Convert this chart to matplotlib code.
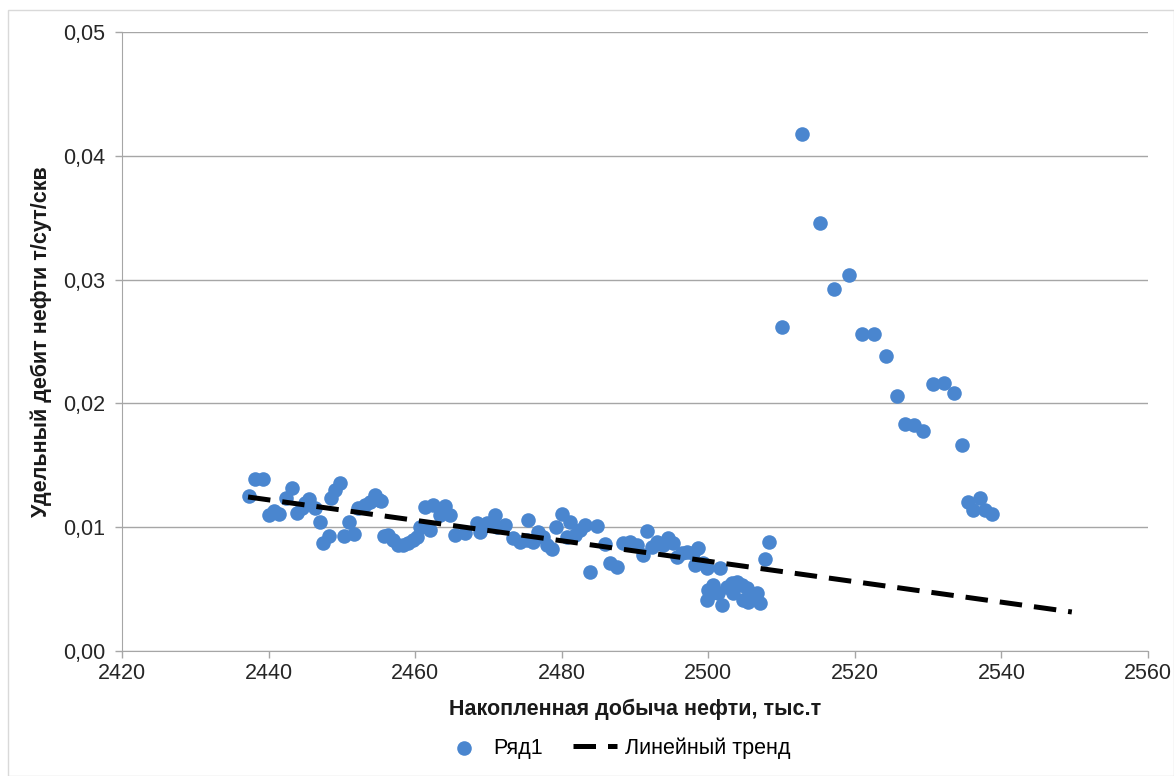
import matplotlib
matplotlib.use("Agg")
import matplotlib.pyplot as plt
from matplotlib.patches import Rectangle
from matplotlib.ticker import FuncFormatter, MultipleLocator

plt.rcParams['font.family'] = ['Liberation Sans', 'DejaVu Sans']

# накопленная добыча, тыс.т
cum_oil = [
    2437.37, 2438.15, 2439.20, 2440.10, 2440.78, 2441.46, 2442.38, 2443.24, 2443.92, 2444.52,
    2444.97, 2445.56, 2446.33, 2447.02, 2447.47, 2448.29, 2448.52, 2449.06, 2449.75, 2450.33,
    2451.01, 2451.70, 2452.24, 2453.16, 2453.84, 2454.52, 2455.11, 2455.40, 2455.75, 2456.30,
    2457.02, 2457.70, 2458.38, 2459.06, 2459.75, 2460.21, 2460.66, 2461.34, 2462.47, 2462.02,
    2463.39, 2464.07, 2464.75, 2465.44, 2466.80, 2468.40, 2468.85, 2469.76, 2470.89, 2471.13,
    2472.26, 2473.39, 2474.31, 2475.22, 2475.44, 2476.12, 2476.80, 2477.48, 2477.94, 2478.63,
    2479.22, 2479.99, 2481.13, 2480.68, 2481.81, 2482.49, 2483.17, 2484.85, 2483.85, 2485.89,
    2486.58, 2487.50, 2488.40, 2489.31, 2490.23, 2491.05, 2491.59, 2492.27, 2492.95, 2493.85,
    2494.53, 2495.13, 2495.68, 2496.36, 2497.04, 2497.94, 2498.63, 2498.18, 2499.31, 2499.78,
    2501.59, 2508.32, 2507.73,
    2499.78, 2500.00, 2500.68, 2501.36, 2501.82, 2502.51, 2503.19, 2503.87, 2504.55, 2504.77,
    2505.24, 2505.69, 2506.14, 2506.60, 2507.05, 2505.44, 2500.49, 2503.43,
    2510.05, 2512.82, 2515.24, 2517.19, 2519.19, 2520.93, 2522.65, 2524.24, 2525.70, 2526.83,
    2528.06, 2529.25, 2530.70, 2532.20, 2533.56, 2534.65, 2535.47, 2537.07, 2536.16, 2537.75,
    2538.67,
]

# удельный дебит, т/сут/скв
spec_rate = [
    0.01254, 0.01389, 0.01389, 0.01099, 0.01131, 0.01104, 0.01233, 0.01319, 0.01112, 0.01153,
    0.01193, 0.01225, 0.01155, 0.01044, 0.00870, 0.00931, 0.01238, 0.01300, 0.01355, 0.00931,
    0.01044, 0.00943, 0.01153, 0.01179, 0.01206, 0.01260, 0.01220, 0.01210, 0.00931, 0.00940,
    0.00897, 0.00856, 0.00856, 0.00870, 0.00897, 0.00923, 0.01004, 0.01166, 0.01179, 0.00977,
    0.01099, 0.01171, 0.01099, 0.00937, 0.00951, 0.01032, 0.00964, 0.01032, 0.01099, 0.01004,
    0.01018, 0.00910, 0.00883, 0.00897, 0.01058, 0.00883, 0.00964, 0.00923, 0.00856, 0.00824,
    0.01004, 0.01104, 0.01040, 0.00923, 0.00937, 0.00977, 0.01018, 0.01012, 0.00641, 0.00862,
    0.00708, 0.00676, 0.00870, 0.00883, 0.00856, 0.00775, 0.00969, 0.00842, 0.00883, 0.00856,
    0.00910, 0.00875, 0.00762, 0.00789, 0.00802, 0.00789, 0.00830, 0.00695, 0.00708, 0.00668,
    0.00668, 0.00883, 0.00741,
    0.00412, 0.00493, 0.00533, 0.00466, 0.00372, 0.00519, 0.00547, 0.00560, 0.00533, 0.00412,
    0.00506, 0.00466, 0.00426, 0.00466, 0.00385, 0.00398, 0.00466, 0.00466,
    0.02617, 0.04174, 0.03455, 0.02924, 0.03037, 0.02558, 0.02558, 0.02383, 0.02062, 0.01831,
    0.01826, 0.01777, 0.02154, 0.02162, 0.02084, 0.01662, 0.01206, 0.01233, 0.01139, 0.01139,
    0.01104,
]

# линия тренда (концы)
trend_x = [2437.2, 2549.6]
trend_y = [0.01244, 0.00315]

fig = plt.figure(figsize=(11.74, 7.76), dpi=100)
ax = fig.add_axes([0.1039, 0.1611, 0.874, 0.7977])

# рамка вокруг диаграммы
fig.patches.append(Rectangle((0.007, 0.0), 0.993, 0.987, transform=fig.transFigure,
                             fill=False, edgecolor='#d9d9d9', linewidth=1))

ax.scatter(cum_oil, spec_rate, s=110, color='#4A86CF', zorder=3, label='Ряд1',
           linewidths=0)
ax.plot(trend_x, trend_y, color='black', linewidth=3.6, linestyle=(0, (4.5, 2.4)),
        zorder=4, label='Линейный тренд')

ax.set_xlim(2420, 2560)
ax.set_ylim(0, 0.05)
ax.xaxis.set_major_locator(MultipleLocator(20))
ax.yaxis.set_major_locator(MultipleLocator(0.01))
ax.yaxis.set_major_formatter(FuncFormatter(lambda v, p: f"{v:.2f}".replace('.', ',')))

ax.grid(axis='y', color='#a6a6a6', linewidth=1)
ax.set_axisbelow(True)
for side in ['top', 'right']:
    ax.spines[side].set_visible(False)
for side in ['left', 'bottom']:
    ax.spines[side].set_color('#a6a6a6')
ax.tick_params(axis='both', colors='#a6a6a6', labelcolor='#262626', labelsize=15.5,
               length=5, width=1)
ax.tick_params(axis='y', pad=7)
ax.tick_params(axis='x', pad=4)

ax.set_xlabel('Накопленная добыча нефти, тыс.т', fontsize=15.5, fontweight='bold',
              color='#1a1a1a', labelpad=10)
ax.set_ylabel('Удельный дебит нефти т/сут/скв', fontsize=15.5, fontweight='bold',
              color='#1a1a1a', labelpad=8)

fig.legend(loc='center', bbox_to_anchor=(0.525, 0.036), ncol=2, frameon=False,
           fontsize=15.5, handlelength=2.0, columnspacing=1.4, handletextpad=0.4)

fig.savefig('out.png', dpi=100)
